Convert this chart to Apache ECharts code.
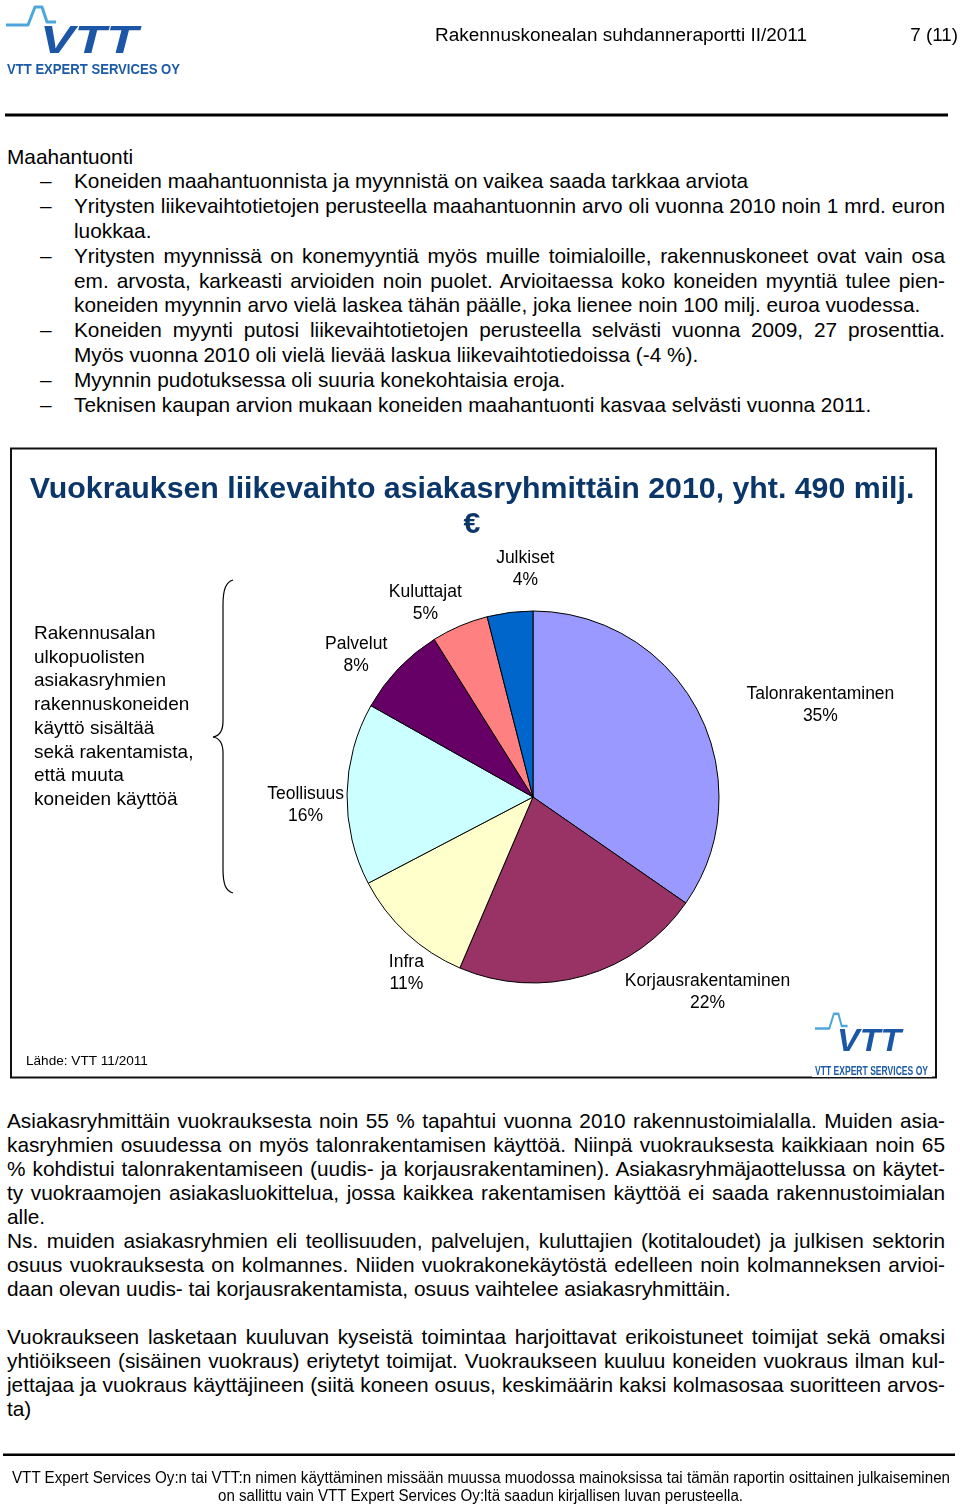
<!DOCTYPE html>
<html><head><meta charset="utf-8">
<script src="https://cdn.jsdelivr.net/npm/echarts@6/dist/echarts.min.js"></script>
<style>
html,body{margin:0;padding:0;background:#fff;}
body{width:960px;height:1505px;position:relative;overflow:hidden;font-family:"Liberation Sans",Arial,sans-serif;color:#000;}
.l{position:absolute;white-space:nowrap;font-size:20.8px;}
.j{text-align:justify;text-align-last:justify;}
#chart{position:absolute;left:10px;top:449px;width:930px;height:630px;}
#ov{position:absolute;left:0;top:0;pointer-events:none;}
</style></head>
<body>
<div id="txt"></div>
<div id="chart"></div>
<svg id="ov" width="960" height="1505" xmlns="http://www.w3.org/2000/svg" font-family="Liberation Sans, Arial, sans-serif">
  <!-- header logo -->
  <polyline points="6,25 28,25 35,7 42,7 47,22 56,22" fill="none" stroke="#4da6dc" stroke-width="3" stroke-linejoin="round"/>
  <text x="40" y="53" font-size="38" font-weight="bold" font-style="italic" fill="#1b57a6" textLength="98" lengthAdjust="spacingAndGlyphs">VTT</text>
  <text x="7" y="74" font-size="15" font-weight="bold" fill="#1c5ba8" textLength="173" lengthAdjust="spacingAndGlyphs">VTT EXPERT SERVICES OY</text>
  <text x="435" y="41" font-size="18.8" fill="#000" textLength="372" lengthAdjust="spacingAndGlyphs">Rakennuskonealan suhdanneraportti II/2011</text>
  <text x="958" y="41" font-size="18.8" fill="#000" text-anchor="end">7 (11)</text>
  <rect x="5" y="113.5" width="943" height="3" fill="#000"/>
  <!-- chart box -->
  <rect x="11" y="448.5" width="925" height="629" fill="none" stroke="#111" stroke-width="2"/>
  <!-- chart logo -->
  <rect x="812" y="1008" width="120" height="69" fill="#fff"/>
  <g transform="translate(811,1008) scale(0.653,0.82)">
    <polyline points="6,25 28,25 35,7 42,7 47,22 56,22" fill="none" stroke="#4da6dc" stroke-width="3" stroke-linejoin="round"/>
    <text x="40" y="53" font-size="38" font-weight="bold" font-style="italic" fill="#1b57a6" textLength="98" lengthAdjust="spacingAndGlyphs">VTT</text>
  </g>
  <text x="815" y="1075" font-size="13" font-weight="bold" fill="#1c5ba8" textLength="113" lengthAdjust="spacingAndGlyphs">VTT EXPERT SERVICES OY</text>
  <!-- footer -->
  <rect x="3" y="1453.5" width="952" height="2.5" fill="#000"/>
  <text x="12" y="1482.5" font-size="16" fill="#000" textLength="938" lengthAdjust="spacingAndGlyphs">VTT Expert Services Oy:n tai VTT:n nimen käyttäminen missään muussa muodossa mainoksissa tai tämän raportin osittainen julkaiseminen</text>
  <text x="218" y="1500.5" font-size="16" fill="#000" textLength="525" lengthAdjust="spacingAndGlyphs">on sallittu vain VTT Expert Services Oy:ltä saadun kirjallisen luvan perusteella.</text>
</svg>
<script>
// ---- chart data ----
const CATEGORIES = ['Talonrakentaminen', 'Korjausrakentaminen', 'Infra', 'Teollisuus', 'Palvelut', 'Kuluttajat', 'Julkiset'];
const SHARES = [35, 22, 11, 16, 8, 5, 4];   // % of rental turnover 2010
const COLORS = ['#9999FF', '#993366', '#FFFFCC', '#CCFFFF', '#660066', '#FF8080', '#0066CC'];
const TITLE = 'Vuokrauksen liikevaihto asiakasryhmittäin 2010, yht. 490 milj.\n€';
const NOTE = 'Rakennusalan\nulkopuolisten\nasiakasryhmien\nrakennuskoneiden\nkäyttö sisältää\nsekä rakentamista,\nettä muuta\nkoneiden käyttöä';
const SOURCE = 'Lähde: VTT 11/2011';

// ---- page text ----
const BULLET_HEAD = 'Maahantuonti';
const BULLET_LINES = [
  ['b', 'Koneiden maahantuonnista ja myynnistä on vaikea saada tarkkaa arviota', 0],
  ['b', 'Yritysten liikevaihtotietojen perusteella maahantuonnin arvo oli vuonna 2010 noin 1 mrd. euron', 1],
  ['', 'luokkaa.', 0],
  ['b', 'Yritysten myynnissä on konemyyntiä myös muille toimialoille, rakennuskoneet ovat vain osa', 1],
  ['', 'em. arvosta, karkeasti arvioiden noin puolet. Arvioitaessa koko koneiden myyntiä tulee pien-', 1],
  ['', 'koneiden myynnin arvo vielä laskea tähän päälle, joka lienee noin 100 milj. euroa vuodessa.', 0],
  ['b', 'Koneiden myynti putosi liikevaihtotietojen perusteella selvästi vuonna 2009, 27 prosenttia.', 1],
  ['', 'Myös vuonna 2010 oli vielä lievää laskua liikevaihtotiedoissa (-4 %).', 0],
  ['b', 'Myynnin pudotuksessa oli suuria konekohtaisia eroja.', 0],
  ['b', 'Teknisen kaupan arvion mukaan koneiden maahantuonti kasvaa selvästi vuonna 2011.', 0]
];
const PARA_LINES = [
  ['Asiakasryhmittäin vuokrauksesta noin 55 % tapahtui vuonna 2010 rakennustoimialalla. Muiden asia-', 1],
  ['kasryhmien osuudessa on myös talonrakentamisen käyttöä. Niinpä vuokrauksesta kaikkiaan noin 65', 1],
  ['% kohdistui talonrakentamiseen (uudis- ja korjausrakentaminen). Asiakasryhmäjaottelussa on käytet-', 1],
  ['ty vuokraamojen asiakasluokittelua, jossa kaikkea rakentamisen käyttöä ei saada rakennustoimialan', 1],
  ['alle.', 0],
  ['Ns. muiden asiakasryhmien eli teollisuuden, palvelujen, kuluttajien (kotitaloudet) ja julkisen sektorin', 1],
  ['osuus vuokrauksesta on kolmannes. Niiden vuokrakonekäytöstä edelleen noin kolmanneksen arvioi-', 1],
  ['daan olevan uudis- tai korjausrakentamista, osuus vaihtelee asiakasryhmittäin.', 0],
  ['', 0],
  ['Vuokraukseen lasketaan kuuluvan kyseistä toimintaa harjoittavat erikoistuneet toimijat sekä omaksi', 1],
  ['yhtiöikseen (sisäinen vuokraus) eriytetyt toimijat. Vuokraukseen kuuluu koneiden vuokraus ilman kul-', 1],
  ['jettajaa ja vuokraus käyttäjineen (siitä koneen osuus, keskimäärin kaksi kolmasosaa suoritteen arvos-', 1],
  ['ta)', 0]
];

(function buildText(){
  const box = document.getElementById('txt');
  function add(text, left, width, centerY, lh, just){
    const d = document.createElement('div');
    d.className = 'l' + (just ? ' j' : '');
    d.style.left = left + 'px';
    d.style.width = width + 'px';
    d.style.top = (centerY - lh / 2) + 'px';
    d.style.lineHeight = lh + 'px';
    d.textContent = text;
    box.appendChild(d);
    return d;
  }
  const lh1 = 24.8;
  add(BULLET_HEAD, 7, 400, 157, lh1, 0);
  BULLET_LINES.forEach((ln, i) => {
    const cy = 157 + (i + 1) * lh1;
    if (ln[0] === 'b') add('\u2013', 40, 20, cy, lh1, 0);
    add(ln[1], 74, 871, cy, lh1, ln[2]);
  });
  const lh2 = 24;
  PARA_LINES.forEach((ln, i) => {
    if (!ln[0]) return;
    add(ln[0], 7, 938, 1121 + i * lh2, lh2, ln[1]);
  });
  // shrink any line that overflows its box
  box.querySelectorAll('.l').forEach(d => {
    if (d.scrollWidth > d.clientWidth + 0.5) {
      d.style.transformOrigin = 'left center';
      d.style.transform = 'scaleX(' + (d.clientWidth / d.scrollWidth) + ')';
    }
  });
})();

// ---- chart ----
const CX = 523, CY = 348, R = 186, GAP = 8;
const LABEL_NUDGE = [[50, 8], [98, -12], [17, 18], [5, 12], [-14, 7], [-17, 5], [20, -13]];
const TOTAL = SHARES.reduce((a, b) => a + b, 0);
const FONT = '"Liberation Sans", Arial, sans-serif';
const BRACE = {stroke: '#000', lineWidth: 1.2, fill: 'none'};

const chart = echarts.init(document.getElementById('chart'), null, {renderer: 'canvas'});
chart.setOption({
  animation: false,
  backgroundColor: 'transparent',
  title: {
    text: TITLE,
    left: 457, top: 18, textAlign: 'center',
    textStyle: {fontFamily: FONT, fontSize: 30.3, fontWeight: 'bold', color: '#0a3669', lineHeight: 35}
  },
  graphic: [
    {type: 'text', x: 24, y: 173, style: {text: NOTE, font: '19px ' + FONT, lineHeight: 23.7, fill: '#000', verticalAlign: 'top'}},
    {type: 'text', x: 16, y: 612, style: {text: SOURCE, font: '13.6px ' + FONT, fill: '#000', verticalAlign: 'middle'}},
    {type: 'bezierCurve', shape: {x1: 223, y1: 131, cpx1: 216, cpy1: 133, cpx2: 213, cpy2: 140, x2: 213, y2: 156}, style: BRACE},
    {type: 'line', shape: {x1: 213, y1: 156, x2: 213, y2: 272}, style: BRACE},
    {type: 'bezierCurve', shape: {x1: 213, y1: 272, cpx1: 213, cpy1: 282, cpx2: 209, cpy2: 287, x2: 203, y2: 288}, style: BRACE},
    {type: 'bezierCurve', shape: {x1: 203, y1: 288, cpx1: 209, cpy1: 289, cpx2: 213, cpy2: 294, x2: 213, y2: 304}, style: BRACE},
    {type: 'line', shape: {x1: 213, y1: 304, x2: 213, y2: 420}, style: BRACE},
    {type: 'bezierCurve', shape: {x1: 213, y1: 420, cpx1: 213, cpy1: 436, cpx2: 216, cpy2: 442, x2: 223, y2: 444}, style: BRACE}
  ],
  series: [{
    type: 'pie',
    center: [CX, CY],
    radius: R,
    startAngle: 90,
    clockwise: true,
    avoidLabelOverlap: false,
    data: CATEGORIES.map((c, i) => ({name: c, value: SHARES[i], itemStyle: {color: COLORS[i]}})),
    itemStyle: {borderColor: '#000', borderWidth: 1},
    emphasis: {disabled: true},
    label: {
      show: true, position: 'outside',
      formatter: '{b}\n{c}%',
      fontFamily: FONT, fontSize: 17.5, lineHeight: 22, color: '#000', align: 'center'
    },
    labelLine: {show: false},
    labelLayout: function (p) {
      const i = p.dataIndex;
      let before = 0;
      for (let k = 0; k < i; k++) before += SHARES[k];
      const a = (before + SHARES[i] / 2) / TOTAL * 2 * Math.PI;
      const dx = Math.sin(a), dy = -Math.cos(a);
      const w = p.labelRect.width, h = p.labelRect.height;
      return {
        x: CX + dx * (R + GAP) + dx * w / 2 + LABEL_NUDGE[i][0],
        y: CY + dy * (R + GAP) + dy * h / 2 + LABEL_NUDGE[i][1],
        align: 'center', verticalAlign: 'middle'
      };
    }
  }]
});
</script>
</body></html>
